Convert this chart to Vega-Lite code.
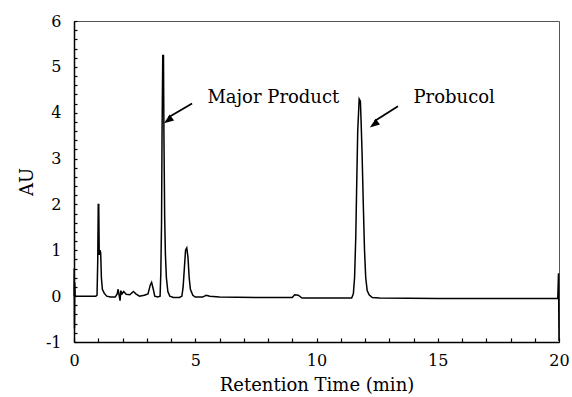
{
  "$schema": "https://vega.github.io/schema/vega-lite/v6.json",
  "width": 485,
  "height": 321,
  "autosize": {"type": "none"},
  "padding": {"left": 74, "top": 21, "right": 13, "bottom": 55},
  "background": "white",
  "config": {
    "view": {"stroke": "#555", "strokeWidth": 1},
    "font": "DejaVu Serif",
    "axis": {
      "domainColor": "black",
      "domainWidth": 1.5,
      "tickColor": "black",
      "tickWidth": 1.2,
      "labelColor": "black",
      "titleColor": "black",
      "labelFont": "DejaVu Serif",
      "titleFont": "DejaVu Serif",
      "labelFontSize": 16,
      "titleFontSize": 18,
      "titleFontWeight": "normal",
      "grid": false,
      "labelOverlap": false,
      "labelFlush": false
    }
  },
  "datasets": {
    "trace": [
      {"t": 0, "v": 0},
      {"t": 0.01, "v": 0.6},
      {"t": 0.02, "v": -0.7},
      {"t": 0.03, "v": 0.3},
      {"t": 0.05, "v": 0},
      {"t": 0.5, "v": 0.0},
      {"t": 0.9, "v": 0.0},
      {"t": 0.95, "v": 0.02},
      {"t": 0.98, "v": 0.8},
      {"t": 1.0, "v": 2.0},
      {"t": 1.02, "v": 2.0},
      {"t": 1.04, "v": 0.9},
      {"t": 1.07, "v": 1.0},
      {"t": 1.1, "v": 0.95},
      {"t": 1.13, "v": 0.4},
      {"t": 1.17, "v": 0.15},
      {"t": 1.25, "v": 0.06},
      {"t": 1.35, "v": 0.0},
      {"t": 1.5, "v": -0.02},
      {"t": 1.7, "v": -0.02},
      {"t": 1.78, "v": 0.05},
      {"t": 1.82, "v": 0.15},
      {"t": 1.86, "v": 0.02},
      {"t": 1.9, "v": -0.1},
      {"t": 1.93, "v": 0.12},
      {"t": 1.98, "v": 0.05},
      {"t": 2.05, "v": 0.1},
      {"t": 2.15, "v": 0.04},
      {"t": 2.3, "v": 0.03},
      {"t": 2.45, "v": 0.1},
      {"t": 2.55, "v": 0.05},
      {"t": 2.7, "v": 0.0},
      {"t": 2.9, "v": 0.02},
      {"t": 3.05, "v": 0.05},
      {"t": 3.15, "v": 0.25},
      {"t": 3.2, "v": 0.3},
      {"t": 3.27, "v": 0.15},
      {"t": 3.33, "v": 0.0},
      {"t": 3.45, "v": -0.02},
      {"t": 3.55, "v": 0.0},
      {"t": 3.58, "v": 0.5},
      {"t": 3.61, "v": 1.6},
      {"t": 3.63, "v": 3.5},
      {"t": 3.66, "v": 5.25},
      {"t": 3.69, "v": 5.25},
      {"t": 3.71, "v": 3.4},
      {"t": 3.74, "v": 1.7},
      {"t": 3.77, "v": 0.9},
      {"t": 3.81, "v": 0.4},
      {"t": 3.87, "v": 0.1},
      {"t": 3.95, "v": 0.0},
      {"t": 4.1, "v": -0.03},
      {"t": 4.35, "v": -0.03},
      {"t": 4.45, "v": 0.0},
      {"t": 4.5, "v": 0.2},
      {"t": 4.55, "v": 0.6},
      {"t": 4.6, "v": 1.0},
      {"t": 4.65, "v": 1.05},
      {"t": 4.7, "v": 0.85},
      {"t": 4.75, "v": 0.4},
      {"t": 4.8, "v": 0.15},
      {"t": 4.9, "v": 0.02},
      {"t": 5.0, "v": -0.02},
      {"t": 5.3, "v": -0.02},
      {"t": 5.45, "v": 0.02},
      {"t": 5.6, "v": 0.0},
      {"t": 6, "v": -0.02},
      {"t": 8, "v": -0.03},
      {"t": 9.0, "v": -0.03},
      {"t": 9.1, "v": 0.03},
      {"t": 9.25, "v": 0.02},
      {"t": 9.4, "v": -0.04},
      {"t": 11.0, "v": -0.04},
      {"t": 11.45, "v": -0.04},
      {"t": 11.52, "v": 0.05},
      {"t": 11.57, "v": 0.4},
      {"t": 11.62, "v": 1.3},
      {"t": 11.66, "v": 2.5},
      {"t": 11.7, "v": 3.6},
      {"t": 11.76, "v": 4.3},
      {"t": 11.81, "v": 4.25},
      {"t": 11.84, "v": 3.8},
      {"t": 11.88, "v": 3.1},
      {"t": 11.93, "v": 2.0},
      {"t": 11.98, "v": 1.0},
      {"t": 12.03, "v": 0.4},
      {"t": 12.09, "v": 0.12},
      {"t": 12.17, "v": 0.03},
      {"t": 12.3, "v": -0.03},
      {"t": 12.6, "v": -0.04},
      {"t": 15, "v": -0.05},
      {"t": 19.95, "v": -0.05},
      {"t": 19.98, "v": 0.5},
      {"t": 20.0, "v": -0.98}
    ],
    "labels": [
      {"t": 5.5, "v": 4.22, "label": "Major Product"},
      {"t": 14.0, "v": 4.22, "label": "Probucol"}
    ],
    "arrows": [
      {"t": 4.87, "v": 4.2, "t2": 3.9, "v2": 3.9},
      {"t": 13.36, "v": 4.14, "t2": 12.4, "v2": 3.82}
    ],
    "heads": [
      {"t": 3.71, "v": 3.77},
      {"t": 12.2, "v": 3.68}
    ]
  },
  "encoding": {
    "x": {
      "field": "t",
      "type": "quantitative",
      "scale": {"domain": [0, 20], "nice": false, "zero": false},
      "axis": {
        "title": "Retention Time (min)",
        "values": [0,1,2,3,4,5,6,7,8,9,10,11,12,13,14,15,16,17,18,19,20],
        "labelExpr": "datum.value % 5 === 0 ? datum.label : ''",
        "labelOverlap": false,
        "labelFlush": false,
        "tickSize": -4,
        "labelPadding": 14,
        "titlePadding": 8
      }
    },
    "y": {
      "field": "v",
      "type": "quantitative",
      "scale": {"domain": [-1, 6], "nice": false, "zero": false},
      "axis": {
        "title": "AU",
        "values": [-1,-0.8,-0.6,-0.4,-0.2,0,0.2,0.4,0.6,0.8,1,1.2,1.4,1.6,1.8,2,2.2,2.4,2.6,2.8,3,3.2,3.4,3.6,3.8,4,4.2,4.4,4.6,4.8,5,5.2,5.4,5.6,5.8,6],
        "labelExpr": "abs(datum.value - round(datum.value)) < 1e-6 ? toString(round(datum.value)) : ''",
        "labelOverlap": false,
        "tickSize": -3,
        "labelPadding": 16,
        "titlePadding": 9
      }
    }
  },
  "layer": [
    {
      "data": {"name": "trace"},
      "mark": {"type": "line", "color": "black", "strokeWidth": 1.5, "interpolate": "linear"}
    },
    {
      "data": {"name": "labels"},
      "mark": {"type": "text", "align": "left", "baseline": "alphabetic", "fontSize": 18, "color": "black", "font": "DejaVu Serif"},
      "encoding": {
        "text": {"field": "label"}
      }
    },
    {
      "data": {"name": "arrows"},
      "mark": {"type": "rule", "color": "black", "strokeWidth": 1.8},
      "encoding": {
        "x2": {"field": "t2"},
        "y2": {"field": "v2"}
      }
    },
    {
      "data": {"name": "heads"},
      "mark": {"type": "point", "shape": "M0,0L0.6,1.6L-0.6,1.6Z", "filled": true, "color": "black", "opacity": 1, "size": 150, "angle": 234}
    }
  ]
}
